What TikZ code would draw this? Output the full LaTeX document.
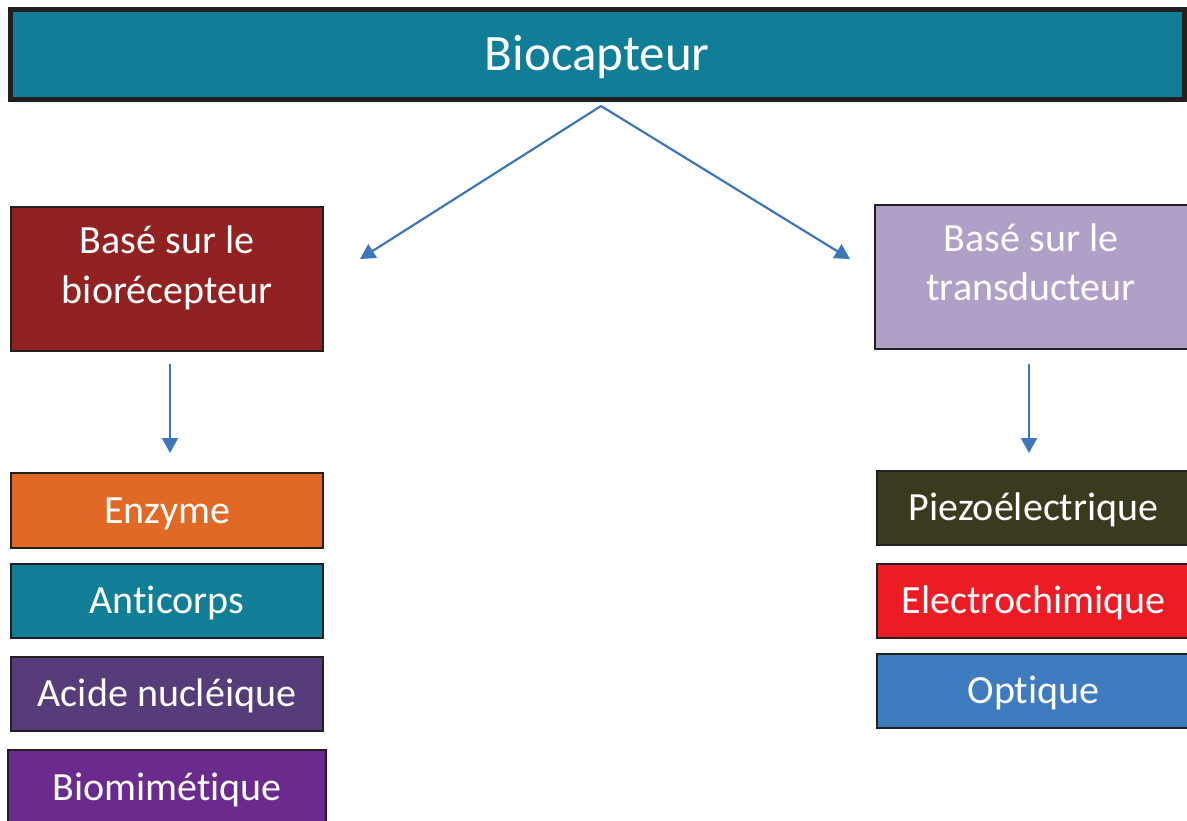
\documentclass[tikz,border=0pt]{standalone}
\usepackage{fontspec}
\setmainfont{Carlito}[Ligatures=NoCommon]
\usetikzlibrary{arrows.meta}
\definecolor{teal1}{HTML}{117E97}
\definecolor{bord}{HTML}{231F20}
\definecolor{bioRed}{HTML}{922121}
\definecolor{transLil}{HTML}{B09FC7}
\definecolor{enzOr}{HTML}{E26825}
\definecolor{acidPu}{HTML}{573C7A}
\definecolor{biomPu}{HTML}{6A2A8E}
\definecolor{piezOl}{HTML}{3C3A1E}
\definecolor{elecRd}{HTML}{ED1C24}
\definecolor{optBl}{HTML}{3F7BBF}
\definecolor{arrBl}{HTML}{3D77B9}
\tikzset{
  topbox/.style={draw=bord, line width=5pt, fill=teal1, inner sep=0pt,
    minimum width=1173.5pt, minimum height=90pt, text=white,
    font=\fontsize{51}{61}\selectfont, text height=32.5pt, text depth=0pt},
  catbox/.style={draw=bord, line width=1.3pt, inner sep=0pt, minimum height=144pt},
  cattext/.style={text=white, align=center, anchor=base,
    font=\fontsize{40}{49.5}\selectfont},
  itembox/.style={draw=bord, line width=1.3pt, inner sep=0pt, text=white,
    minimum height=74pt, font=\fontsize{40}{49.5}\selectfont,
    text height=25.5pt, text depth=0pt},
  arr/.style={draw=arrBl, line width=2.2pt, -{Triangle[length=15pt,width=16pt]}}
}
\begin{document}
\begin{tikzpicture}[x=1pt,y=-1pt]
\useasboundingbox (0,0) rectangle (1187,820);
% top
\node[topbox] (top) at (597.25,54.5) {Biocapteur};
% category boxes
\node[catbox, fill=bioRed, minimum width=312pt] (bio) at (167,279) {};
\node[cattext] (bioT) at (167,303) {Basé sur le\\biorécepteur};
\node[catbox, fill=transLil, minimum width=315pt] (trans) at (1032.5,277) {};
\node[cattext] (transT) at (1031,300.5) {Basé sur le\\transducteur};
% left items
\node[itembox, fill=enzOr, minimum width=312pt, minimum height=75pt] (enz) at (167,510.5) {Enzyme};
\node[itembox, fill=teal1, minimum width=312pt] (anti) at (167,601) {Anticorps};
\node[itembox, fill=acidPu, minimum width=312pt] (acid) at (167,694) {Acide nucléique};
\node[itembox, fill=biomPu, minimum width=318pt, minimum height=76pt] (biom) at (167,788) {Biomimétique};
% right items
\node[itembox, fill=piezOl, minimum width=313pt] (piez) at (1033.5,508) {Piezoélectrique};
\node[itembox, fill=elecRd, minimum width=313pt] (elec) at (1033.5,601) {Electrochimique};
\node[itembox, fill=optBl, minimum width=313pt] (opt) at (1033.5,691) {Optique};
% connector ends
\coordinate (apex) at (601,106);
\coordinate (tipL) at (360,259);
\coordinate (tipR) at (850,259);
\coordinate (bioOut) at (170,364);
\coordinate (bioIn) at (170,453);
\coordinate (trOut) at (1029,364);
\coordinate (trIn) at (1029,453);
\draw[arr] (apex) -- (tipL);
\draw[arr] (apex) -- (tipR);
\draw[arr] (bioOut) -- (bioIn);
\draw[arr] (trOut) -- (trIn);
\end{tikzpicture}
\end{document}
